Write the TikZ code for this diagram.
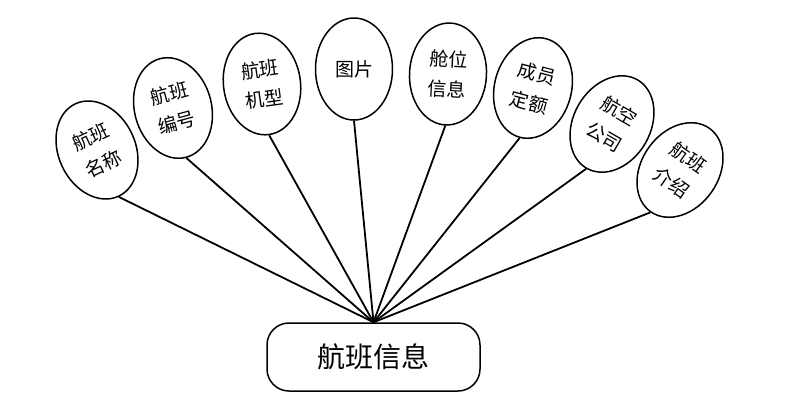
\documentclass[tikz,border=0pt]{standalone}
\usepackage{fontspec}
\newfontfamily\cjk{Noto Sans CJK SC}
\usetikzlibrary{shapes.geometric}
\begin{document}
\begin{tikzpicture}[x=1pt,y=-1pt,
  attr/.style={draw,line width=1.5pt,ellipse,minimum width=77pt,minimum height=102pt,inner sep=0pt,align=center,font=\cjk\fontsize{19}{30}\selectfont},
  ent/.style={draw,line width=1.5pt,rounded corners=22pt,minimum width=213pt,minimum height=68pt,font=\cjk\fontsize{28}{34}\selectfont},
  link/.style={line width=1.8pt}]
\useasboundingbox (0,0) rectangle (793,416);
\node[ent] (main) at (373.5,357) {航班信息};
\coordinate (c) at (main.north);
\node[attr,rotate=25] (a1) at (97,150) {航班\\名称};
\node[attr,rotate=15] (a2) at (173,108) {航班\\编号};
\node[attr,rotate=8] (a3) at (262,84) {航班\\机型};
\node[attr] (a4) at (354,69) {图片};
\node[attr,rotate=-3] (a5) at (448,74) {舱位\\信息};
\node[attr,rotate=-15] (a6) at (533,88) {成员\\定额};
\node[attr,rotate=-30] (a7) at (612,124) {航空\\公司};
\node[attr,rotate=-35] (a8) at (680,170) {航班\\介绍};
\foreach \i in {1,...,8} {\draw[link] (a\i.south) -- (c);}
\end{tikzpicture}
\end{document}
